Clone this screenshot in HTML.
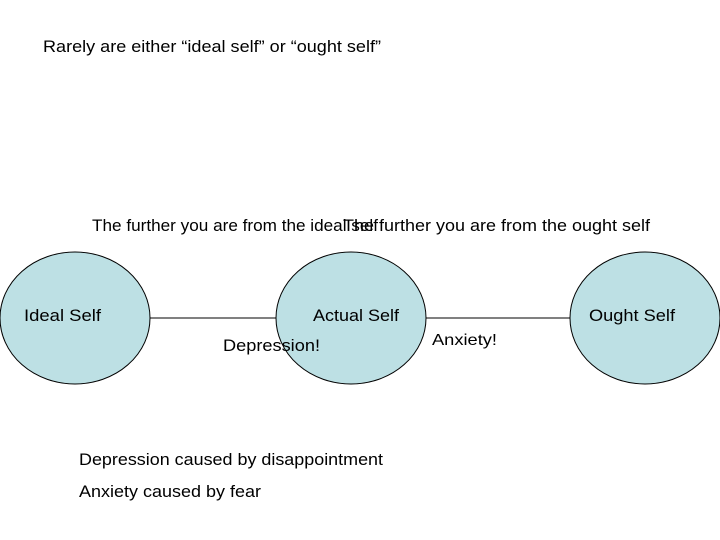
<!DOCTYPE html>
<html><head><style>
body{margin:0;width:720px;height:540px;background:#fff;overflow:hidden;position:relative;font-family:"Liberation Sans",Arial,sans-serif;}
svg{position:absolute;left:0;top:0}
</style></head><body>
<svg width="720" height="540" viewBox="0 0 720 540" font-family="Liberation Sans, Arial, sans-serif" font-size="17" fill="#000">
<line x1="150" y1="318" x2="276" y2="318" stroke="#000" stroke-width="1"/>
<line x1="426" y1="318" x2="570" y2="318" stroke="#000" stroke-width="1"/>
<ellipse cx="75" cy="318" rx="75" ry="66" fill="#bde0e4" stroke="#000" stroke-width="1"/>
<ellipse cx="351" cy="318" rx="75" ry="66" fill="#bde0e4" stroke="#000" stroke-width="1"/>
<ellipse cx="645" cy="318" rx="75" ry="66" fill="#bde0e4" stroke="#000" stroke-width="1"/>
<text x="43" y="52" textLength="338" lengthAdjust="spacingAndGlyphs">Rarely are either “ideal self” or “ought self”</text>
<text x="92" y="231" textLength="286" lengthAdjust="spacingAndGlyphs">The further you are from the ideal self</text>
<text x="343" y="231" textLength="307" lengthAdjust="spacingAndGlyphs">The further you are from the ought self</text>
<text x="24" y="321" textLength="77" lengthAdjust="spacingAndGlyphs">Ideal Self</text>
<text x="313" y="321" textLength="86" lengthAdjust="spacingAndGlyphs">Actual Self</text>
<text x="589" y="321" textLength="86" lengthAdjust="spacingAndGlyphs">Ought Self</text>
<text x="223" y="351" textLength="97" lengthAdjust="spacingAndGlyphs">Depression!</text>
<text x="432" y="345" font-size="16" textLength="65" lengthAdjust="spacingAndGlyphs">Anxiety!</text>
<text x="79" y="465" textLength="304" lengthAdjust="spacingAndGlyphs">Depression caused by disappointment</text>
<text x="79" y="497" textLength="182" lengthAdjust="spacingAndGlyphs">Anxiety caused by fear</text>
</svg>
</body></html>
